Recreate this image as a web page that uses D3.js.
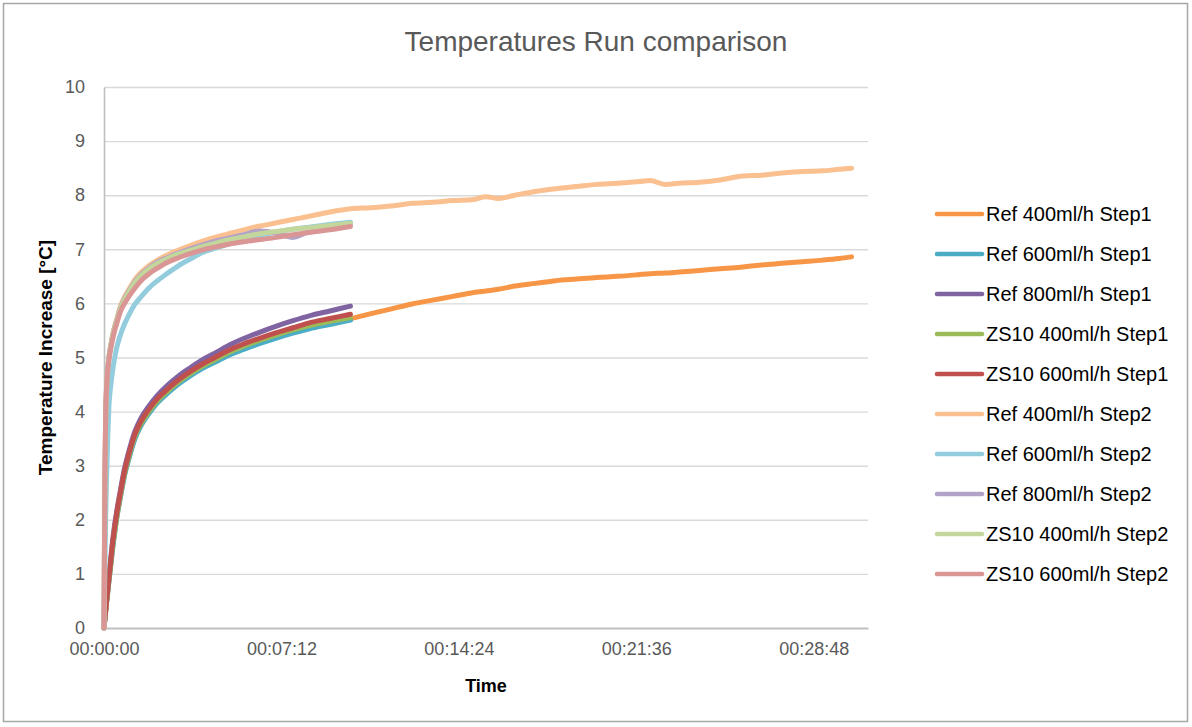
<!DOCTYPE html>
<html>
<head>
<meta charset="utf-8">
<script src="https://cdn.jsdelivr.net/npm/d3@7"></script>
<style>
  html, body { margin: 0; padding: 0; background: #ffffff; }
  svg { display: block; }
</style>
</head>
<body>
<svg id="chart" width="1192" height="727"></svg>
<script>
// ---------------- DATA ----------------
const chartTitle = "Temperatures Run comparison";
const xAxisTitle = "Time";
const yAxisTitle = "Temperature Increase [°C]";

const seriesNames = [
  "Ref 400ml/h Step1", "Ref 600ml/h Step1", "Ref 800ml/h Step1",
  "ZS10 400ml/h Step1", "ZS10 600ml/h Step1",
  "Ref 400ml/h Step2", "Ref 600ml/h Step2", "Ref 800ml/h Step2",
  "ZS10 400ml/h Step2", "ZS10 600ml/h Step2"
];

// time in seconds, first 10 minutes (shared by all runs)
const timeA = [0, 2, 4, 6, 9, 12, 16, 20, 25, 30, 40, 50, 60, 75, 90, 110, 130, 155, 180, 210,
               240, 270, 300, 340, 380, 420, 460, 500, 550, 600];
// time in seconds, continuation of the two long runs
const timeB = [650, 700, 750, 800, 850, 900, 930, 960, 1000, 1050, 1100, 1150, 1200, 1250, 1300,
               1330, 1366, 1400, 1450, 1500, 1550, 1600, 1650, 1700, 1750, 1790, 1820];

const ref400Step1 = [0, 0.15, 0.30, 0.45, 0.66, 0.87, 1.14, 1.42, 1.72, 1.99, 2.43, 2.84, 3.13, 3.51, 3.75,
                     3.99, 4.18, 4.36, 4.52, 4.69, 4.82, 4.94, 5.05, 5.18, 5.29, 5.39, 5.47, 5.56, 5.64, 5.72,
                     5.81, 5.90, 5.99, 6.06, 6.13, 6.20, 6.23, 6.26, 6.32, 6.37, 6.42, 6.45, 6.48, 6.50, 6.53,
                     6.55, 6.56, 6.58, 6.61, 6.64, 6.67, 6.71, 6.74, 6.77, 6.80, 6.83, 6.86];
const ref600Step1 = [0, 0.15, 0.30, 0.45, 0.65, 0.86, 1.13, 1.40, 1.70, 1.98, 2.42, 2.82, 3.11, 3.49, 3.74,
                     3.97, 4.16, 4.34, 4.50, 4.66, 4.80, 4.91, 5.03, 5.15, 5.26, 5.36, 5.45, 5.53, 5.61, 5.69];
const ref800Step1 = [0, 0.17, 0.33, 0.50, 0.73, 0.96, 1.25, 1.55, 1.86, 2.11, 2.55, 2.95, 3.25, 3.63, 3.88,
                     4.11, 4.30, 4.49, 4.65, 4.81, 4.96, 5.08, 5.21, 5.35, 5.47, 5.58, 5.68, 5.77, 5.86, 5.95];
const zs10_400Step1 = [0, 0.16, 0.31, 0.47, 0.68, 0.89, 1.16, 1.45, 1.75, 2.02, 2.46, 2.86, 3.16, 3.54, 3.78,
                       4.01, 4.20, 4.38, 4.54, 4.70, 4.84, 4.96, 5.08, 5.21, 5.32, 5.42, 5.51, 5.59, 5.67, 5.74];
const zs10_600Step1 = [0, 0.16, 0.32, 0.48, 0.70, 0.92, 1.20, 1.50, 1.80, 2.07, 2.50, 2.90, 3.20, 3.58, 3.82,
                       4.05, 4.24, 4.42, 4.58, 4.74, 4.88, 5.00, 5.12, 5.25, 5.36, 5.46, 5.55, 5.64, 5.72, 5.80];

const ref400Step2 = [0, 2.6, 3.9, 4.4, 4.8, 5.0, 5.2, 5.38, 5.55, 5.68, 5.95, 6.12, 6.25, 6.44, 6.57,
                     6.70, 6.80, 6.90, 6.98, 7.07, 7.15, 7.22, 7.28, 7.36, 7.43, 7.49, 7.55, 7.61, 7.69, 7.75,
                     7.77, 7.80, 7.85, 7.87, 7.90, 7.92, 7.97, 7.94, 8.00, 8.07, 8.12, 8.16, 8.20, 8.22, 8.25,
                     8.27, 8.20, 8.22, 8.24, 8.28, 8.35, 8.37, 8.41, 8.44, 8.45, 8.48, 8.50];
const ref600Step2 = [0, 1.0, 2.0, 2.7, 3.5, 4.1, 4.45, 4.7, 4.95, 5.15, 5.42, 5.62, 5.78, 5.98, 6.12,
                     6.29, 6.42, 6.56, 6.69, 6.82, 6.94, 7.02, 7.09, 7.18, 7.26, 7.32, 7.37, 7.41, 7.46, 7.50];
const ref800Step2 = [0, 2.6, 3.85, 4.38, 4.78, 5.0, 5.2, 5.36, 5.53, 5.66, 5.92, 6.09, 6.22, 6.40, 6.53,
                     6.66, 6.76, 6.85, 6.93, 7.01, 7.08, 7.15, 7.20, 7.27, 7.34, 7.30, 7.22, 7.33, 7.41, 7.46];
const zs10_400Step2 = [0, 2.5, 3.8, 4.35, 4.75, 4.98, 5.18, 5.35, 5.52, 5.65, 5.90, 6.07, 6.20, 6.38, 6.51,
                       6.64, 6.74, 6.83, 6.91, 6.98, 7.05, 7.11, 7.17, 7.23, 7.29, 7.33, 7.37, 7.40, 7.44, 7.48];
const zs10_600Step2 = [0, 2.7, 3.95, 4.4, 4.75, 4.95, 5.15, 5.3, 5.47, 5.6, 5.85, 6.0, 6.12, 6.28, 6.42,
                       6.55, 6.65, 6.76, 6.84, 6.92, 6.99, 7.04, 7.09, 7.14, 7.18, 7.22, 7.27, 7.31, 7.36, 7.42];

const seriesValues = [ref400Step1, ref600Step1, ref800Step1, zs10_400Step1, zs10_600Step1,
                      ref400Step2, ref600Step2, ref800Step2, zs10_400Step2, zs10_600Step2];

const seriesColors = ["#F79646", "#4BACC6", "#8064A2", "#9BBB59", "#C0504D",
                      "#FAC090", "#93CDDD", "#B3A2C7", "#C3D69B", "#D99694"];

const xTickValues = [0, 432, 864, 1296, 1728];
const xTickLabels = ["00:00:00", "00:07:12", "00:14:24", "00:21:36", "00:28:48"];
const yTickValues = [0, 1, 2, 3, 4, 5, 6, 7, 8, 9, 10];
const xMax = 1860;   // axis maximum in seconds
const yMax = 10;

// ---------------- DRAWING ----------------
const svg = d3.select("#chart");
const FONT = "'Liberation Sans', Arial, sans-serif";

// chart area frame
svg.append("rect").attr("x", 3.5).attr("y", 3.5).attr("width", 1184).attr("height", 718)
  .attr("fill", "#ffffff").attr("stroke", "#a6a6a6").attr("stroke-width", 1.5);

const plot = { left: 104, right: 868, top: 87, bottom: 628 };
const x = d3.scaleLinear().domain([0, xMax]).range([plot.left, plot.right]);
const y = d3.scaleLinear().domain([0, yMax]).range([plot.bottom, plot.top]);

// gridlines
const yGrid = d3.axisLeft(y).tickValues(yTickValues.filter(v => v > 0))
  .tickSize(-(plot.right - plot.left)).tickFormat("");
svg.append("g").attr("transform", `translate(${plot.left},0)`).call(yGrid)
  .call(g => g.select(".domain").remove())
  .call(g => g.selectAll("line").attr("stroke", "#d9d9d9").attr("stroke-width", 1.4));

// y axis labels
const yAxis = d3.axisLeft(y).tickValues(yTickValues).tickSize(0).tickPadding(19).tickFormat(d3.format("d"));
svg.append("g").attr("transform", `translate(${plot.left},0)`).call(yAxis)
  .call(g => g.select(".domain").attr("stroke", "#bfbfbf").attr("stroke-width", 1.6))
  .call(g => g.selectAll("text").attr("fill", "#595959").style("font-family", FONT).style("font-size", "18px"));

// x axis
const xAxis = d3.axisBottom(x).tickValues(xTickValues).tickSize(0).tickPadding(14)
  .tickFormat((d, i) => xTickLabels[i]);
svg.append("g").attr("transform", `translate(0,${plot.bottom})`).call(xAxis)
  .call(g => g.select(".domain").attr("stroke", "#bfbfbf").attr("stroke-width", 1.8))
  .call(g => g.selectAll("text").attr("fill", "#595959").style("font-family", FONT).style("font-size", "18px"));

// series lines
const line = d3.line().x(d => x(d[0])).y(d => y(d[1])).curve(d3.curveMonotoneX);
const timeFull = timeA.concat(timeB);
seriesValues.forEach((vals, i) => {
  const pts = vals.map((v, k) => [timeFull[k], v]);
  svg.append("path").datum(pts)
    .attr("d", line)
    .attr("fill", "none")
    .attr("stroke", seriesColors[i])
    .attr("stroke-width", 5)
    .attr("stroke-linejoin", "round")
    .attr("stroke-linecap", "round");
});

// title
svg.append("text").attr("x", 596).attr("y", 51).attr("text-anchor", "middle")
  .attr("fill", "#595959").style("font-family", FONT).style("font-size", "28px")
  .text(chartTitle);

// axis titles
svg.append("text").attr("x", (plot.left + plot.right) / 2).attr("y", 692).attr("text-anchor", "middle")
  .attr("fill", "#000000").style("font-family", FONT).style("font-size", "18px").style("font-weight", "bold")
  .text(xAxisTitle);
svg.append("text").attr("transform", `translate(52,${(plot.top + plot.bottom) / 2}) rotate(-90)`)
  .attr("text-anchor", "middle")
  .attr("fill", "#000000").style("font-family", FONT).style("font-size", "19px").style("font-weight", "bold")
  .text(yAxisTitle);

// legend
const legend = svg.append("g").attr("transform", "translate(937,214)");
seriesNames.forEach((name, i) => {
  const row = legend.append("g").attr("transform", `translate(0,${i * 40})`);
  row.append("line").attr("x1", 0).attr("x2", 45).attr("y1", 0).attr("y2", 0)
    .attr("stroke", seriesColors[i]).attr("stroke-width", 4.5).attr("stroke-linecap", "round");
  row.append("text").attr("x", 49).attr("y", 0).attr("dy", "0.36em")
    .attr("fill", "#000000").style("font-family", FONT).style("font-size", "20px")
    .text(name);
});
</script>
</body>
</html>
